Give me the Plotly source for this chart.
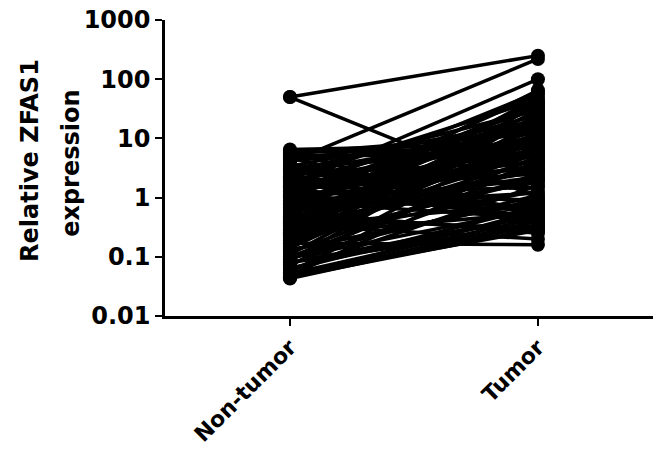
import plotly.graph_objects as go

categories = ["Non-tumor", "Tumor"]
y_ticks = [0.01, 0.1, 1, 10, 100, 1000]
y_tick_labels = ["0.01", "0.1", "1", "10", "100", "1000"]

non_tumor = [50, 50, 6.5, 6.0, 5.6, 5.2, 4.8, 4.4, 4.0, 3.7, 3.4, 3.1,
             2.9, 2.7, 2.5, 2.3, 2.1, 2.0, 1.9, 1.8, 1.7, 1.6,
             1.5, 1.4, 1.3, 1.25, 1.2, 1.1, 1.05, 1.0, 0.95, 0.9,
             0.85, 0.8, 0.76, 0.72, 0.68, 0.64, 0.6, 0.57, 0.54, 0.51,
             0.48, 0.45, 0.42, 0.4, 0.38, 0.36, 0.34, 0.32, 0.3, 0.28,
             0.26, 0.24, 0.22, 0.21, 0.2, 0.19, 0.18, 0.17, 0.16, 0.15,
             0.14, 0.13, 0.12, 0.11, 0.1, 0.095, 0.09, 0.085, 0.08, 0.075,
             0.07, 0.065, 0.06, 0.055, 0.05, 0.048, 0.046, 0.044, 0.043,
             5.8, 4.2, 3.3, 2.6, 2.2, 1.9, 1.55, 1.35, 1.15, 0.98,
             0.88, 0.78, 0.7, 0.62, 0.55, 0.46, 0.41, 0.37, 0.33, 0.29,
             0.25, 0.23, 0.2, 0.17, 0.13, 0.1, 0.08, 0.06, 0.052, 0.045]
tumor = [250, 1.0, 8, 0.35, 12, 5, 0.3, 15, 220, 0.5,
         20, 7, 0.6, 30, 4, 0.8, 45, 9, 3, 0.4,
         25, 100, 6, 2.5, 0.9, 18, 60, 1.5, 0.7, 35,
         3.5, 10, 0.45, 2, 22, 55, 1.2, 40, 6.5, 0.25,
         14, 65, 2.8, 0.3, 28, 5.5, 1.8, 11, 0.2, 8.5,
         3.2, 16, 50, 0.55, 4.5, 1.3, 24, 9.5, 2.2, 0.16,
         7.5, 38, 12.5, 0.9, 3.8, 19, 1.1, 0.65, 5, 26,
         0.32, 2.6, 13, 0.5, 1.6, 8, 0.28, 4.2, 0.4, 0.6, 0.35,
         7, 9, 6, 14, 0.45, 20, 11, 4, 32, 0.6,
         8, 17, 2.2, 42, 6, 12, 3, 21, 0.8, 15,
         5.5, 30, 2, 10, 0.9, 4, 0.5, 0.7, 0.45, 0.3]

xs, ys = [], []
for a, b in zip(non_tumor, tumor):
    xs += [0, 1, None]
    ys += [a, b, None]

fig = go.Figure()
fig.add_trace(go.Scatter(
    x=xs, y=ys, mode="lines+markers",
    line=dict(color="black", width=3.5),
    marker=dict(color="black", size=14),
    showlegend=False, connectgaps=False,
))

font = "DejaVu Sans"
title_font = dict(family=font, size=24, color="black", weight="bold")
fig.update_layout(
    width=653, height=455,
    margin=dict(l=165, r=0, t=20, b=139, autoexpand=False),
    plot_bgcolor="white", paper_bgcolor="white",
    font=dict(family=font, color="black"),
    xaxis=dict(
        range=[-0.504, 1.464], tickmode="array", tickvals=[0, 1],
        ticktext=categories, tickangle=-45, automargin=False,
        ticklabeloverflow="allow",
        showline=True, linecolor="black", linewidth=2.5,
        ticks="outside", ticklen=7, tickwidth=2, tickcolor="black",
        showgrid=False, zeroline=False,
        tickfont=dict(family=font, size=22, color="black", weight="bold"),
    ),
    yaxis=dict(
        type="log", range=[-2, 3], tickmode="array", automargin=False,
        ticklabeloverflow="allow",
        tickvals=y_ticks, ticktext=y_tick_labels,
        showline=True, linecolor="black", linewidth=2.5,
        ticks="outside", ticklen=7, tickwidth=2, tickcolor="black",
        showgrid=False, zeroline=False,
        tickfont=dict(family=font, size=24, color="black", weight="bold"),
    ),
    annotations=[
        dict(text="Relative ZFAS1", xref="paper", yref="paper",
             x=-0.2766, y=0.524, showarrow=False, textangle=-90,
             font=title_font, xanchor="center", yanchor="middle"),
        dict(text="expression", xref="paper", yref="paper",
             x=-0.1926, y=0.514, showarrow=False, textangle=-90,
             font=title_font, xanchor="center", yanchor="middle"),
    ],
)

fig.write_html(
    "out.html",
    config={"displayModeBar": False},
    post_script="document.body.style.margin='0';document.body.style.overflow='hidden';",
)
